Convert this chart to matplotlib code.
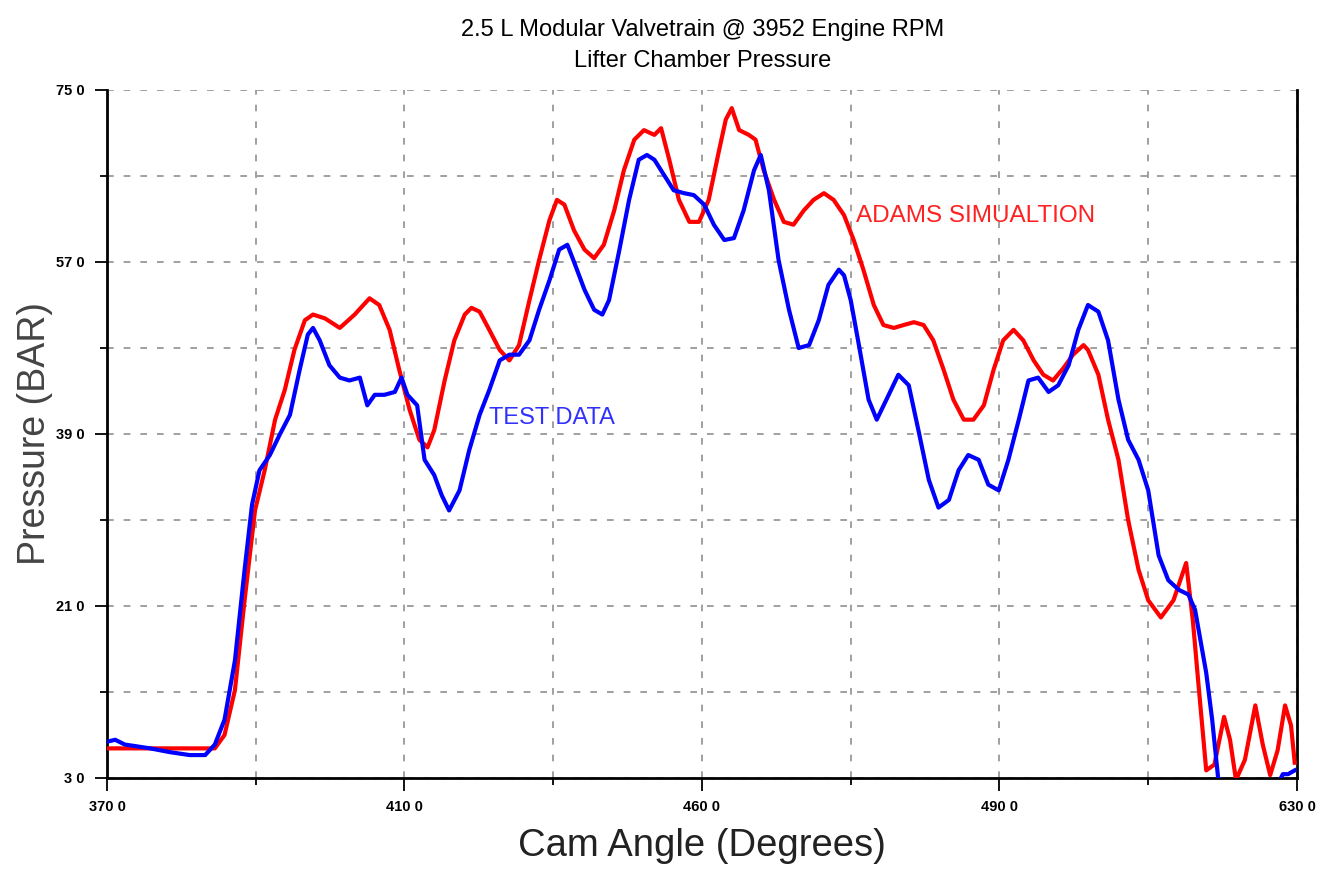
import numpy as np
import matplotlib
matplotlib.use('Agg')
import matplotlib.pyplot as plt
from matplotlib.ticker import FixedLocator

# ADAMS simulation (red)
sim_angle = [370.0, 384.5, 385.8, 387.2, 388.5, 389.9, 391.2, 392.6, 393.9, 395.2,
             396.6, 397.7, 399.3, 401.3, 403.3, 405.3, 406.6, 408.0, 409.3, 410.7,
             412.0, 413.1, 414.0, 415.4, 416.7, 418.1, 419.0, 420.1, 421.4, 422.8,
             424.1, 425.4, 426.8, 428.1, 429.5, 430.5, 431.5, 432.8, 434.2, 435.5,
             436.8, 438.2, 439.5, 440.9, 442.2, 443.6, 444.5, 445.6, 446.9, 448.3,
             449.6, 450.9, 452.3, 453.2, 454.0, 455.0, 456.3, 457.2, 458.3, 459.7,
             461.0, 462.3, 463.7, 465.0, 466.4, 467.7, 469.1, 470.4, 471.7, 473.1,
             474.4, 475.8, 477.1, 478.5, 479.8, 481.1, 482.5, 483.8, 485.2, 486.5,
             487.9, 489.2, 490.5, 491.9, 493.2, 494.6, 495.9, 497.2, 498.6, 499.9,
             501.3, 501.9, 503.3, 504.6, 506.0, 507.3, 508.7, 510.0, 511.7, 513.4,
             515.1, 516.0, 516.7, 517.8, 518.9, 520.2, 521.0, 521.8, 523.0, 524.4,
             525.4, 526.4, 527.4, 528.4, 529.2, 529.7]
sim_press = [6.1, 6.1, 7.5, 12.2, 21.6, 31.0, 35.2, 40.5, 43.6, 47.8,
             50.9, 51.5, 51.1, 50.1, 51.5, 53.2, 52.5, 49.9, 45.7, 41.5,
             38.4, 37.6, 39.4, 44.6, 48.8, 51.5, 52.2, 51.8, 49.9, 47.8,
             46.7, 48.3, 53.0, 57.2, 61.4, 63.5, 63.0, 60.3, 58.3, 57.4,
             58.8, 62.4, 66.6, 69.8, 70.8, 70.3, 71.0, 67.7, 63.5, 61.2,
             61.2, 63.5, 68.7, 71.9, 73.1, 70.8, 70.3, 69.8, 66.6, 63.5,
             61.2, 60.9, 62.4, 63.5, 64.2, 63.5, 61.9, 59.3, 56.2, 52.5,
             50.4, 50.1, 50.4, 50.7, 50.4, 48.8, 45.7, 42.6, 40.5, 40.5,
             42.0, 45.7, 48.8, 49.9, 48.8, 46.7, 45.2, 44.6, 45.9, 47.3,
             48.3, 47.8, 45.2, 40.5, 36.3, 30.0, 24.8, 21.6, 19.8, 21.6,
             25.5, 19.5, 13.3, 3.8, 4.4, 9.4, 7.0, 2.8, 4.9, 10.6,
             6.5, 3.3, 5.9, 10.6, 8.5, 4.6]

# test data (blue)
test_angle = [370.0, 371.1, 372.4, 375.8, 378.5, 381.1, 383.2, 384.5, 385.8, 387.2,
              388.5, 389.5, 390.5, 391.9, 393.2, 394.6, 395.9, 397.0, 397.7, 398.6,
              399.9, 401.3, 402.6, 404.0, 405.0, 406.0, 407.3, 408.7, 409.6, 410.4,
              411.7, 412.7, 414.0, 415.0, 416.0, 417.4, 418.7, 420.1, 421.4, 422.8,
              424.1, 425.4, 426.8, 428.1, 429.5, 430.8, 431.9, 432.8, 434.2, 435.5,
              436.6, 437.5, 438.9, 440.2, 441.5, 442.6, 443.6, 444.9, 446.2, 447.6,
              448.9, 450.3, 451.6, 453.0, 454.3, 455.6, 457.0, 457.9, 459.0, 460.3,
              461.7, 463.0, 464.4, 465.7, 467.0, 468.4, 469.1, 470.0, 471.1, 472.4,
              473.5, 474.8, 476.4, 477.8, 479.1, 480.5, 481.8, 483.2, 484.5, 485.8,
              487.2, 488.5, 489.9, 491.2, 492.6, 493.9, 495.2, 496.6, 497.9, 499.3,
              500.6, 501.9, 503.3, 504.6, 506.0, 507.3, 508.7, 510.0, 511.4, 512.7,
              514.1, 515.4, 516.3, 517.8, 518.6, 519.4, 520.5, 527.4, 528.1, 528.8,
              529.7]
test_press = [6.8, 7.0, 6.5, 6.1, 5.7, 5.4, 5.4, 6.5, 9.1, 15.3,
              24.8, 31.6, 35.2, 36.8, 38.9, 41.0, 45.7, 49.4, 50.1, 48.8,
              46.2, 44.9, 44.6, 44.9, 42.0, 43.1, 43.1, 43.4, 44.9, 43.1,
              42.0, 36.3, 34.7, 32.6, 31.0, 33.1, 37.3, 41.0, 43.6, 46.7,
              47.3, 47.3, 48.8, 52.0, 55.1, 58.3, 58.8, 57.0, 54.1, 52.0,
              51.5, 53.0, 58.3, 63.5, 67.7, 68.2, 67.7, 66.1, 64.5, 64.2,
              64.0, 63.0, 60.9, 59.3, 59.5, 62.4, 66.6, 68.2, 64.5, 57.2,
              52.0, 48.0, 48.3, 50.9, 54.6, 56.2, 55.6, 53.0, 48.3, 42.6,
              40.5, 42.6, 45.2, 44.1, 39.4, 34.2, 31.3, 32.1, 35.2, 36.8,
              36.3, 33.7, 33.1, 36.3, 40.5, 44.6, 44.9, 43.4, 44.1, 46.2,
              49.9, 52.5, 51.8, 48.8, 42.6, 38.4, 36.3, 33.1, 26.3, 23.7,
              22.7, 22.2, 20.6, 14.0, 9.1, 3.0, 2.0, 2.3, 3.4, 3.4,
              3.8]

x_ticks = [370, 410, 450, 490, 530]
x_minor = [390, 430, 470, 510]
x_labels = ['370 0', '410 0', '460 0', '490 0', '630 0']
y_ticks = [3, 21, 39, 57, 75]
y_minor = [12, 30, 48, 66]
y_labels = ['3 0', '21 0', '39 0', '57 0', '75 0']

plt.rcParams['font.family'] = ['Liberation Sans', 'DejaVu Sans']

fig = plt.figure(figsize=(13.26, 8.72), dpi=100)
ax = fig.add_axes([0.0807, 0.1078, 0.8974, 0.789])

ax.plot(sim_angle, sim_press, color='#ff0000', lw=3, zorder=3)
ax.plot(test_angle, test_press, color='#0000ff', lw=3, zorder=4)

ax.set_xlim(370, 530)
ax.set_ylim(3, 75)
ax.xaxis.set_major_locator(FixedLocator(x_ticks))
ax.set_xticklabels(x_labels)
ax.yaxis.set_major_locator(FixedLocator(y_ticks))
ax.set_yticklabels(y_labels)
ax.xaxis.set_minor_locator(FixedLocator(x_minor))
ax.yaxis.set_minor_locator(FixedLocator(y_minor))

ax.grid(which='both', color='#909090', ls=(0, (4, 6)), lw=1.2)
ax.tick_params(which='major', direction='out', length=9, width=1.3,
               labelsize=10.5, pad=7)
ax.tick_params(which='minor', direction='out', length=5, width=1.3)
for lab in ax.get_xticklabels() + ax.get_yticklabels():
    lab.set_fontweight('bold')

ax.spines['top'].set_visible(False)
for s in ['left', 'bottom', 'right']:
    ax.spines[s].set_linewidth(2)

ax.set_xlabel('Cam Angle (Degrees)', fontsize=27.5, color='#222222', labelpad=10)
ax.set_ylabel('Pressure (BAR)', fontsize=27, color='#444444', labelpad=2)

fig.text(0.53, 0.966, '2.5 L Modular Valvetrain @ 3952 Engine RPM',
         ha='center', va='center', fontsize=17)
fig.text(0.53, 0.93, 'Lifter Chamber Pressure', ha='center', va='center',
         fontsize=17)

ax.text(470.7, 61.8, 'ADAMS SIMUALTION', color='#ff2020', fontsize=17.5,
        va='center', ha='left')
ax.text(421.4, 40.7, 'TEST DATA', color='#3030ff', fontsize=17,
        va='center', ha='left')

fig.savefig('out.png', dpi=100)
